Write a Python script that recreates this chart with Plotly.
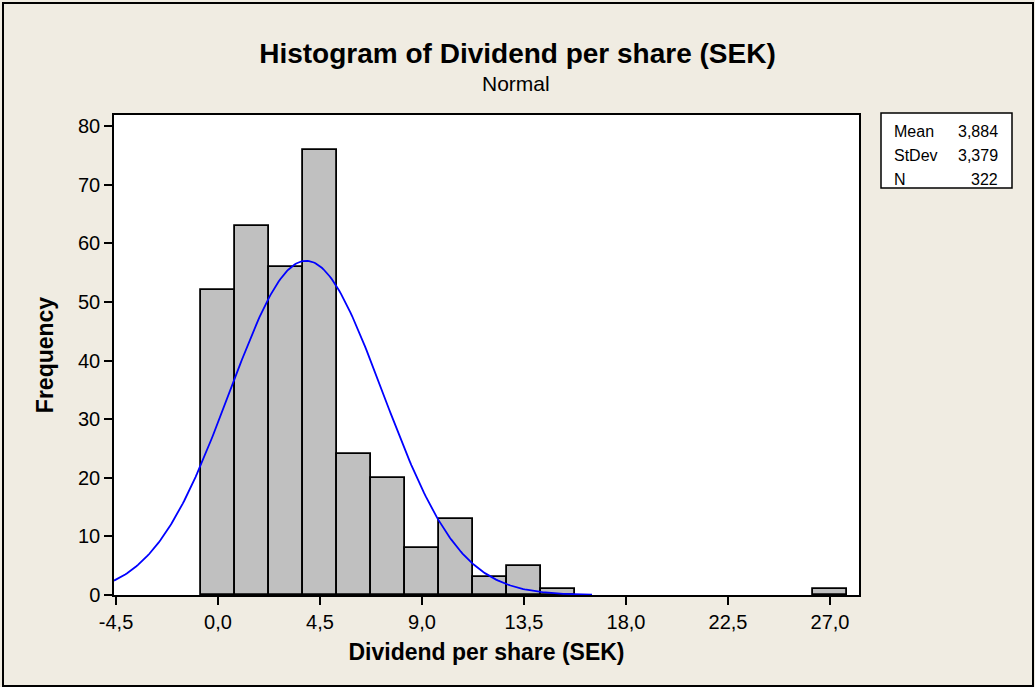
import numpy as np
import plotly.graph_objects as go

# ---- data ----
bin_centers = [0.0, 1.5, 3.0, 4.5, 6.0, 7.5, 9.0, 10.5, 12.0, 13.5, 15.0, 27.0]
counts = [52, 63, 56, 76, 24, 20, 8, 13, 3, 5, 1, 1]
bin_width = 1.5
mean_val = 3.884
stdev_val = 3.379
n_val = 322
stat_labels = ["Mean", "StDev", "N"]
stat_values = ["3,884", "3,379", "322"]
x_tickvals = [-4.5, 0.0, 4.5, 9.0, 13.5, 18.0, 22.5, 27.0]
x_ticktext = ["-4,5", "0,0", "4,5", "9,0", "13,5", "18,0", "22,5", "27,0"]
y_tickvals = [0, 10, 20, 30, 40, 50, 60, 70, 80]

# fitted normal curve (from the displayed Mean / StDev / N)
xc = np.linspace(-4.59, 16.5, 300)
yc = n_val * bin_width * np.exp(-0.5 * ((xc - mean_val) / stdev_val) ** 2) / (stdev_val * np.sqrt(2 * np.pi))

FONT = "Liberation Sans, Arial, sans-serif"
BG = "#F0ECE2"

fig = go.Figure()
fig.add_trace(go.Bar(
    x=bin_centers, y=counts, width=bin_width,
    marker=dict(color="#C0C0C0", line=dict(color="black", width=1.8)),
    hoverinfo="x+y", showlegend=False,
))
fig.add_trace(go.Scatter(
    x=xc, y=yc, mode="lines", line=dict(color="#0000FF", width=1.8),
    showlegend=False, hoverinfo="skip",
))

# plot area in pixels: x 114..859, y 115..595
L, R, T, B = 114, 859, 115, 595
W, H = 1035, 687
pw, ph = R - L, B - T

def px(xp):
    return (xp - L) / pw

def py(yp):
    return (B - yp) / ph

shapes = [
    # outer frame
    dict(type="rect", xref="paper", yref="paper", x0=px(3), x1=px(1033), y0=py(686), y1=py(3),
         line=dict(color="black", width=2), fillcolor="rgba(0,0,0,0)", layer="below"),
    # stats box
    dict(type="rect", xref="paper", yref="paper", x0=px(881), x1=px(1012), y0=py(188), y1=py(113),
         line=dict(color="black", width=1.5), fillcolor="white"),
]

annotations = [
    dict(text="Normal", xref="paper", yref="paper", x=px(516), y=py(84), showarrow=False,
         xanchor="center", yanchor="middle", font=dict(family=FONT, size=21, color="black")),
]
row_y = [131, 155, 179]
for lab, val, yy in zip(stat_labels, stat_values, row_y):
    annotations.append(dict(text=lab, xref="paper", yref="paper", x=px(892), y=py(yy), showarrow=False,
                            xanchor="left", yanchor="middle", font=dict(family=FONT, size=16, color="black")))
    annotations.append(dict(text=val, xref="paper", yref="paper", x=px(1000), y=py(yy), showarrow=False,
                            xanchor="right", yanchor="middle", font=dict(family=FONT, size=16, color="black")))

fig.update_layout(
    width=W, height=H,
    margin=dict(l=L, r=W - R, t=T, b=H - B, pad=0),
    paper_bgcolor=BG, plot_bgcolor="white",
    bargap=0,
    separators=",.",
    title=dict(text="<b>Histogram of Dividend per share (SEK)</b>", xref="container", yref="container",
               x=0.5, y=1 - 53 / H, xanchor="center", yanchor="middle",
               font=dict(family=FONT, size=28, color="black")),
    xaxis=dict(range=[-4.59, 28.28], tickvals=x_tickvals, ticktext=x_ticktext,
               ticks="outside", ticklen=8, tickwidth=1.5, tickcolor="black",
               showline=True, linecolor="black", linewidth=1.5, mirror=True,
               showgrid=False, zeroline=False,
               tickfont=dict(family=FONT, size=20, color="black"),
               title=dict(text="<b>Dividend per share (SEK)</b>", standoff=12,
                          font=dict(family=FONT, size=23, color="black"))),
    yaxis=dict(range=[0, 81.9], tickvals=y_tickvals,
               ticks="outside", ticklen=8, tickwidth=1.5, tickcolor="black",
               showline=True, linecolor="black", linewidth=1.5, mirror=True,
               showgrid=False, zeroline=False,
               tickfont=dict(family=FONT, size=20, color="black"),
               title=dict(text="<b>Frequency</b>", standoff=18,
                          font=dict(family=FONT, size=23, color="black"))),
    shapes=shapes,
    annotations=annotations,
    showlegend=False,
)

fig.write_html("out.html", config={"displayModeBar": False},
               post_script="document.body.style.margin='0px';document.body.style.overflow='hidden';")
